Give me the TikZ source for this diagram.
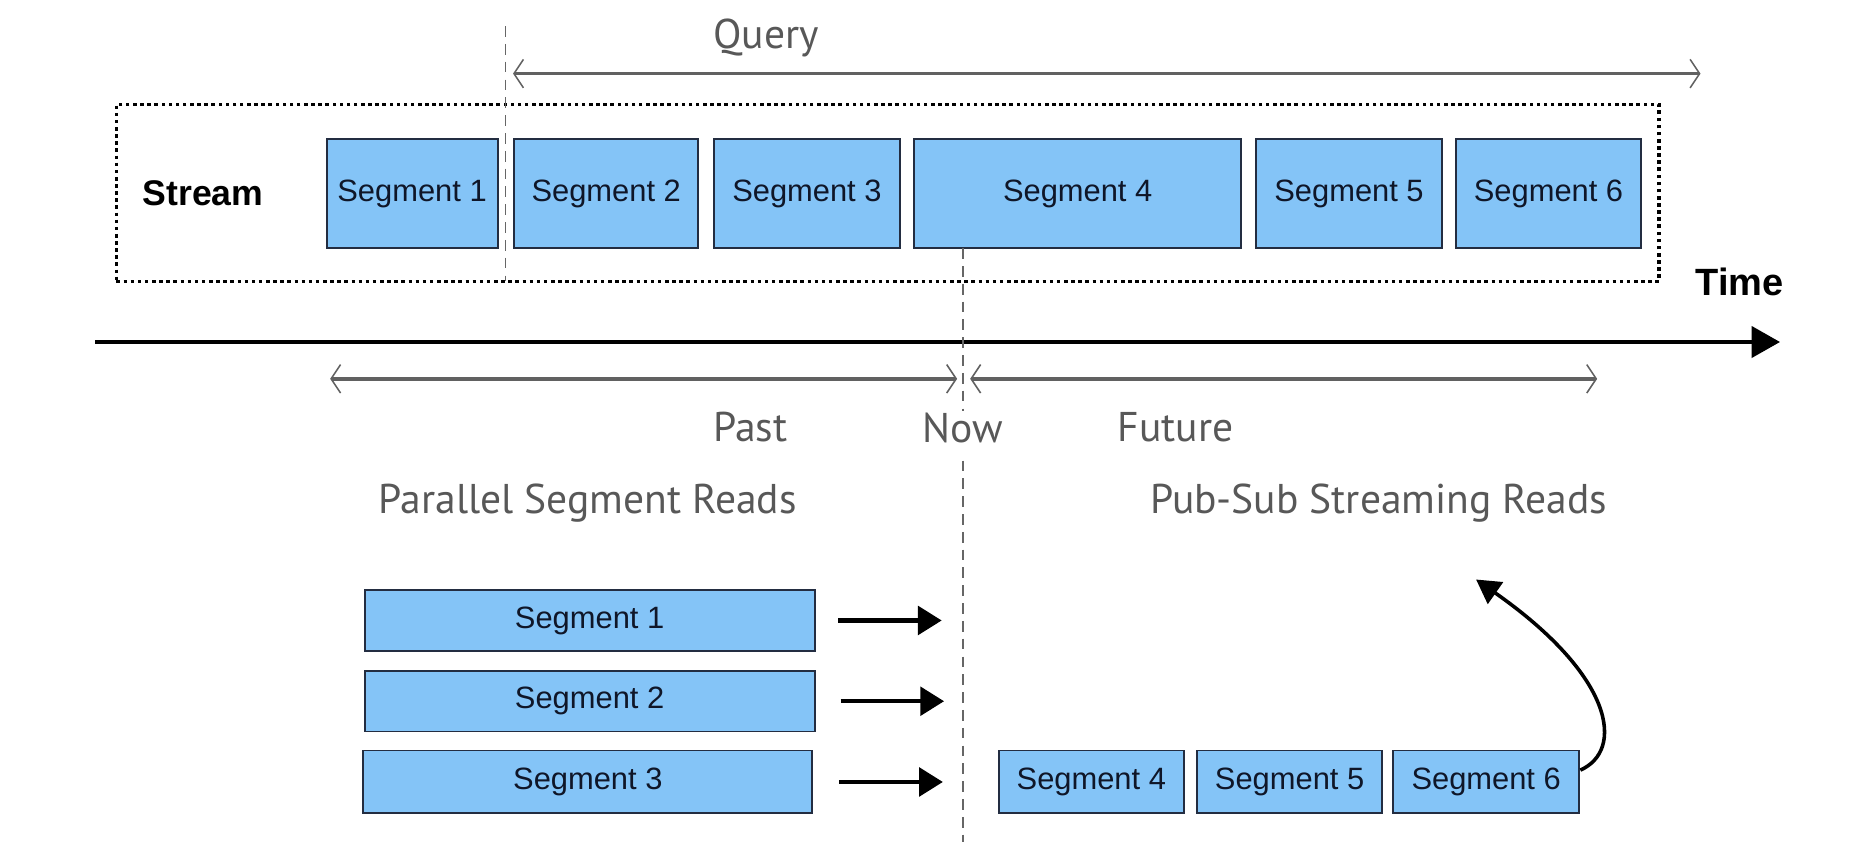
\documentclass[tikz,border=0pt]{standalone}
\usepackage{fontspec}
\setmainfont{Liberation Sans}
\newfontfamily\handfont{PT Sans}
\usetikzlibrary{arrows.meta}
\definecolor{segfill}{RGB}{132,196,247}
\definecolor{segdraw}{RGB}{35,45,65}
\definecolor{segtext}{RGB}{15,22,40}
\definecolor{handgray}{RGB}{88,88,88}
\begin{document}
\begin{tikzpicture}[x=1pt,y=-1pt,
  seg/.style={draw=segdraw, line width=1.6pt, fill=segfill, inner sep=0pt,
    font=\fontsize{26}{29}\selectfont, text=segtext},
  handlbl/.style={font=\handfont\fontsize{35}{38}\selectfont, text=handgray, inner sep=1pt},
  guide/.style={draw=black!60, line width=1pt, dash pattern=on 9pt off 6pt},
  spanarrow/.style={draw=black!62, line width=3pt,
    {Straight Barb[line width=1.3pt,length=8pt,width=24pt]}-{Straight Barb[line width=1.3pt,length=8pt,width=24pt]}},
  readarrow/.style={draw=black, line width=3.5pt, -{Triangle[length=20pt,width=24pt]}},
  framebox/.style={draw=black, line width=3pt, dash pattern=on 3pt off 3pt, inner sep=0pt},
  boldlbl/.style={font=\bfseries\fontsize{30}{33}\selectfont, text=black}
]
\useasboundingbox (0,0) rectangle (1568,709);

% frame
\node[framebox, minimum width=1299pt, minimum height=149pt] (frame) at (747.5,162.5) {};
\node[boldlbl] (stream) at (171,163) {Stream};
\node[boldlbl, font=\bfseries\fontsize{32}{35}\selectfont] (time) at (1465,237) {Time};

% top segments
\node[seg, minimum width=144pt, minimum height=92pt] (t1) at (347,163) {Segment 1};
\node[seg, minimum width=155pt, minimum height=92pt] (t2) at (510.5,163) {Segment 2};
\node[seg, minimum width=157pt, minimum height=92pt] (t3) at (679.5,163) {Segment 3};
\node[seg, minimum width=275pt, minimum height=92pt] (t4) at (907.5,163) {Segment 4};
\node[seg, minimum width=156pt, minimum height=92pt] (t5) at (1136,163) {Segment 5};
\node[seg, minimum width=156pt, minimum height=92pt] (t6) at (1304,163) {Segment 6};

% guides
\coordinate (qtop) at (426,22);
\coordinate (qbot) at (426,237);
\draw[guide] (qtop) -- (qbot);

% query arrow
\node[handlbl] (query) at (645,32) {Query};
\coordinate (qa) at (432,62);
\coordinate (qb) at (1432,62);
\draw[spanarrow] (qa) -- (qb);

% time axis
\coordinate (ax0) at (80,288);
\coordinate (ax1) at (1499,288);
\draw[draw=black, line width=4pt, -{Triangle[length=24pt,width=26pt]}] (ax0) -- (ax1);

% past / future
\coordinate (pa) at (278,319);
\coordinate (pb) at (806,319);
\coordinate (fa) at (817,319);
\coordinate (fb) at (1345,319);
\draw[spanarrow] (pa) -- (pb);
\draw[spanarrow] (fa) -- (fb);
\node[handlbl] (past) at (632,360) {Past};
\node[handlbl] (now) at (811,360) {Now};
\node[handlbl] (future) at (990,360) {Future};

% now guide
\coordinate (ntop) at (811,209);
\coordinate (nbot) at (811,709);
\draw[guide] (ntop) -- (now.north);
\draw[guide] ([yshift=-14pt]now.south) -- (nbot);

% section titles
\node[handlbl] (par) at (495,424) {Parallel Segment Reads};
\node[handlbl] (pub) at (1161,424) {Pub-Sub Streaming Reads};

% bottom left segments
\node[seg, minimum width=379pt, minimum height=51pt] (b1) at (496.5,522.5) {Segment 1};
\node[seg, minimum width=379pt, minimum height=51pt] (b2) at (496.5,590.5) {Segment 2};
\node[seg, minimum width=378pt, minimum height=53pt] (b3) at (495,658.5) {Segment 3};
\coordinate (r1) at (793,522.5);
\coordinate (r2) at (795,590.5);
\coordinate (r3) at (794,658.5);
\draw[readarrow] ([xshift=19pt]b1.east) -- (r1);
\draw[readarrow] ([xshift=21pt]b2.east) -- (r2);
\draw[readarrow] ([xshift=22pt]b3.east) -- (r3);

% bottom right segments
\node[seg, minimum width=156pt, minimum height=53pt] (b4) at (919,658.5) {Segment 4};
\node[seg, minimum width=156pt, minimum height=53pt] (b5) at (1086,658.5) {Segment 5};
\node[seg, minimum width=157pt, minimum height=53pt] (b6) at (1251.5,658.5) {Segment 6};
\coordinate (up) at (1243,488);
\draw[draw=black, line width=3pt, -{Triangle[length=20pt,width=22pt]}]
  ([yshift=10pt]b6.east) .. controls (1368,632) and (1360,570) .. (up);
\end{tikzpicture}
\end{document}
